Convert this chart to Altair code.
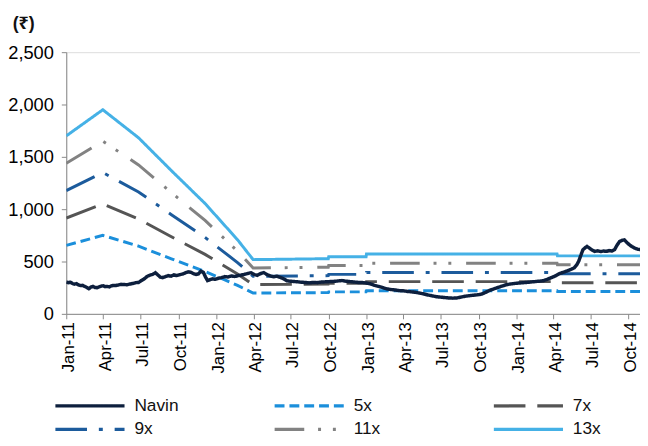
import altair as alt
import pandas as pd

series_names = ["Navin", "5x", "7x", "9x", "11x", "13x"]
series_colors = ["#0d1f3d", "#1b8fdb", "#555555", "#1c5b9c", "#828282", "#45b1e6"]
series_dashes = [[1, 0], [10, 5], [32, 12], [32, 12, 4, 12], [30, 14, 3, 12, 3, 15], [1, 0]]

band_dates = ["2011-01-01", "2011-03-31", "2011-06-26", "2011-09-14", "2011-12-05",
              "2012-02-22", "2012-03-31", "2012-09-30", "2012-10-01", "2012-12-31",
              "2013-01-01", "2014-04-10", "2014-04-11", "2014-11-05"]
band_5x = [654, 750, 647, 526, 405, 272, 199, 203, 210, 210, 220, 220, 213, 213]
band_7x = [915, 1050, 906, 737, 568, 381, 279, 284, 293, 293, 308, 308, 298, 298]
band_9x = [1177, 1350, 1164, 947, 730, 490, 359, 365, 377, 377, 396, 396, 384, 384]
band_11x = [1438, 1650, 1423, 1158, 892, 599, 438, 446, 461, 461, 484, 484, 469, 469]
band_13x = [1700, 1950, 1682, 1368, 1054, 708, 518, 527, 545, 545, 572, 572, 554, 554]

navin_dates = [
    "2011-01-01", "2011-01-06", "2011-01-11", "2011-01-16", "2011-01-21", "2011-01-26", "2011-01-31",
    "2011-02-05", "2011-02-10", "2011-02-15", "2011-02-20", "2011-02-25", "2011-03-02", "2011-03-07",
    "2011-03-12", "2011-03-17", "2011-03-22", "2011-03-27", "2011-04-01", "2011-04-06", "2011-04-11",
    "2011-04-16", "2011-04-21", "2011-04-26", "2011-05-01", "2011-05-08", "2011-05-15", "2011-05-22",
    "2011-05-29", "2011-06-05", "2011-06-12", "2011-06-19", "2011-06-26", "2011-07-03", "2011-07-10",
    "2011-07-17", "2011-07-24", "2011-07-31", "2011-08-06", "2011-08-12", "2011-08-18", "2011-08-24",
    "2011-08-30", "2011-09-06", "2011-09-13", "2011-09-20", "2011-09-27", "2011-10-04", "2011-10-11",
    "2011-10-18", "2011-10-25", "2011-11-01", "2011-11-07", "2011-11-13", "2011-11-19", "2011-11-25",
    "2011-12-01", "2011-12-06", "2011-12-11", "2011-12-17", "2011-12-23", "2011-12-30", "2012-01-06",
    "2012-01-14", "2012-01-22", "2012-01-30", "2012-02-07", "2012-02-15", "2012-02-23", "2012-03-02",
    "2012-03-10", "2012-03-18", "2012-03-26", "2012-04-03", "2012-04-10", "2012-04-18", "2012-04-26",
    "2012-05-04", "2012-05-12", "2012-05-20", "2012-05-28", "2012-06-05", "2012-06-13", "2012-06-21",
    "2012-06-29", "2012-07-08", "2012-07-17", "2012-07-26", "2012-08-04", "2012-08-14", "2012-08-24",
    "2012-09-03", "2012-09-13", "2012-09-23", "2012-10-03", "2012-10-13", "2012-10-23", "2012-11-02",
    "2012-11-12", "2012-11-22", "2012-12-02", "2012-12-12", "2012-12-22", "2013-01-01", "2013-01-11",
    "2013-01-21", "2013-01-31", "2013-02-10", "2013-02-20", "2013-03-02", "2013-03-12", "2013-03-22",
    "2013-04-01", "2013-04-11", "2013-04-21", "2013-05-01", "2013-05-11", "2013-05-21", "2013-05-31",
    "2013-06-10", "2013-06-20", "2013-06-30", "2013-07-10", "2013-07-20", "2013-07-30", "2013-08-09",
    "2013-08-19", "2013-08-29", "2013-09-08", "2013-09-18", "2013-09-28", "2013-10-08", "2013-10-18",
    "2013-10-28", "2013-11-07", "2013-11-17", "2013-11-27", "2013-12-07", "2013-12-17", "2013-12-27",
    "2014-01-06", "2014-01-16", "2014-01-26", "2014-02-05", "2014-02-15", "2014-02-25", "2014-03-07",
    "2014-03-17", "2014-03-27", "2014-04-06", "2014-04-16", "2014-04-26", "2014-05-06", "2014-05-14",
    "2014-05-22", "2014-05-28", "2014-06-02", "2014-06-07", "2014-06-12", "2014-06-17", "2014-06-22",
    "2014-06-28", "2014-07-04", "2014-07-11", "2014-07-18", "2014-07-25", "2014-08-01", "2014-08-08",
    "2014-08-15", "2014-08-22", "2014-08-28", "2014-09-03", "2014-09-09", "2014-09-15", "2014-09-21",
    "2014-09-27", "2014-10-03", "2014-10-09", "2014-10-16", "2014-10-23", "2014-10-30",
]
navin_price = [
    305, 298, 302, 290, 284, 288, 276,
    270, 272, 262, 252, 240, 255, 262,
    252, 250, 258, 265, 268, 260, 262,
    258, 268, 272, 270, 276, 282, 280,
    278, 285, 290, 298, 300, 318, 335,
    358, 370, 378, 393, 372, 350, 346,
    355, 365, 360, 372, 366, 374, 380,
    392, 402, 396, 384, 376, 382, 408,
    395, 352, 318, 326, 334, 330, 340,
    346, 356, 352, 362, 357, 365, 370,
    378, 386, 393, 376, 368, 384, 394,
    375, 362, 354, 360, 348, 336, 316,
    312, 309, 306, 302, 300, 296, 300,
    298, 304, 306, 308, 310, 314, 318,
    312, 308, 304, 300, 299, 294, 286,
    272, 262, 250, 238, 232, 228, 222,
    220, 214, 210, 205, 198, 190, 180,
    172, 164, 160, 156, 152, 150, 152,
    160, 168, 173, 178, 182, 188, 205,
    225, 238, 252, 265, 278, 285, 290,
    294, 297, 300, 304, 308, 312, 316,
    330, 346, 362, 385, 398, 412, 425,
    440, 468, 505, 560, 612, 630, 644,
    628, 610, 597, 602, 595, 600, 597,
    604, 600, 613, 655, 690, 702, 707,
    682, 660, 644, 628, 618, 613,
]

y_ticks = [0, 500, 1000, 1500, 2000, 2500]

band_values = {"5x": band_5x, "7x": band_7x, "9x": band_9x, "11x": band_11x, "13x": band_13x}
band_rows = []
for name, vals in band_values.items():
    for d, v in zip(band_dates, vals):
        band_rows.append({"date": d, "value": v, "series": name})
bands_df = pd.DataFrame(band_rows)
navin_df = pd.DataFrame({"date": navin_dates, "value": navin_price, "series": "Navin"})

quarter_ticks = [alt.DateTime(year=y, month=m, date=1, utc=True)
                 for y in (2011, 2012, 2013, 2014) for m in (1, 4, 7, 10)]

x_enc = alt.X(
    "date:T",
    scale=alt.Scale(type="utc",
                    domain=[alt.DateTime(year=2011, month=1, date=1, utc=True),
                            alt.DateTime(year=2014, month=10, date=29, utc=True)]),
    axis=alt.Axis(values=quarter_ticks, format="%b-%y", labelAngle=-90, title=None, grid=False,
                  labelFontSize=17, labelPadding=3, labelOffset=2),
)
y_enc = alt.Y(
    "value:Q",
    scale=alt.Scale(domain=[0, 2500], nice=False),
    axis=alt.Axis(values=y_ticks, format=",.0f", title=None, grid=False,
                  labelFontSize=18.5, labelPadding=8),
)
legend = alt.Legend(
    title=None, orient="none", legendX=12, legendY=346, columns=3, direction="horizontal",
    gridAlign="all", columnPadding=90, rowPadding=3, symbolType="M-3.5,0H3.5", symbolSize=400,
    symbolStrokeWidth=3.3, labelFontSize=17.5, labelOffset=33, padding=0, labelColor="#111111",
    labelFont="Liberation Sans",
)
color_enc = alt.Color("series:N", scale=alt.Scale(domain=series_names, range=series_colors), legend=legend)
dash_enc = alt.StrokeDash("series:N", scale=alt.Scale(domain=series_names, range=series_dashes), legend=legend)

band_layer = alt.Chart(bands_df).mark_line(strokeWidth=3, clip=True).encode(
    x=x_enc, y=y_enc, color=color_enc, strokeDash=dash_enc, detail="series:N"
)
navin_layer = alt.Chart(navin_df).mark_line(strokeWidth=3.5, clip=True).encode(
    x=x_enc, y=y_enc, color=color_enc, strokeDash=dash_enc
)

chart = alt.layer(band_layer, navin_layer).properties(
    width=581, height=265,
    padding={"left": 59, "top": 42, "right": 0, "bottom": 123},
    autosize=alt.AutoSizeParams(type="none"),
    title=alt.TitleParams("(₹)", anchor="start", dx=5, offset=10, fontSize=18,
                          fontWeight="bold", font="Liberation Sans, Noto Sans", color="#111111"),
).configure_view(stroke=None).configure_axis(
    domainColor="#000000", domainWidth=2, tickColor="#000000", tickWidth=1.5, tickSize=5,
    grid=False, labelColor="#111111", labelFont="Liberation Sans",
).configure(background="white")

chart.save("out.html", embed_options={"renderer": "svg", "actions": False})
